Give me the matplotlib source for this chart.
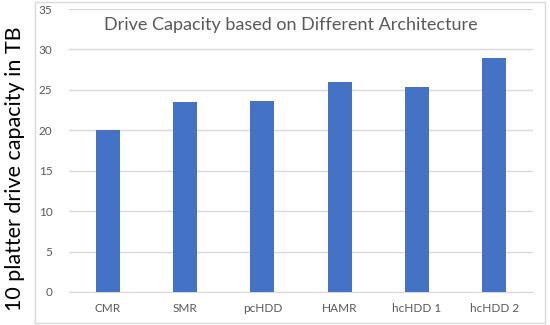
import numpy as np
import matplotlib.pyplot as plt
from matplotlib.patches import Rectangle

plt.rcParams['font.family'] = ['Lato', 'DejaVu Sans']

# donnees
categories = ['CMR', 'SMR', 'pcHDD', 'HAMR', 'hcHDD 1', 'hcHDD 2']
capacite = [20, 23.5, 23.6, 26, 25.4, 29]
yticks = np.arange(0, 40, 5)

W, H = 550, 325
fig = plt.figure(figsize=(5.5, 3.25), dpi=100)
ax = fig.add_axes([69 / W, 33 / H, 464 / W, 283 / H])

x = np.arange(len(categories))
ax.bar(x, capacite, width=0.31, color='#4472C4', zorder=3)

ax.set_xlim(-0.5, len(categories) - 0.5)
ax.set_ylim(0, 35)
ax.set_yticks(yticks)
ax.set_xticks(x)
ax.set_xticklabels(categories)
ax.grid(axis='y', color='#D9D9D9', linewidth=1, zorder=0)
for s in ['top', 'right', 'left']:
    ax.spines[s].set_visible(False)
ax.spines['bottom'].set_color('#D9D9D9')
ax.tick_params(length=0, colors='#595959', labelsize=8.5)
ax.tick_params(axis='y', pad=12)
ax.tick_params(axis='x', pad=8)

# cadre du graphique
fig.patches.append(Rectangle((35 / W, 2 / H), 510 / W, 321 / H,
                             transform=fig.transFigure, fill=False,
                             edgecolor='#D9D9D9', linewidth=1))

fig.text(291 / W, (H - 25) / H, 'Drive Capacity based on Different Architecture',
         ha='center', va='center', color='#595959', fontsize=13)
fig.text(15 / W, (H - 169) / H, '10 platter drive capacity in TB',
         rotation=90, ha='center', va='center', color='black', fontsize=15.5)

fig.savefig('out.png', dpi=100, facecolor='white')
